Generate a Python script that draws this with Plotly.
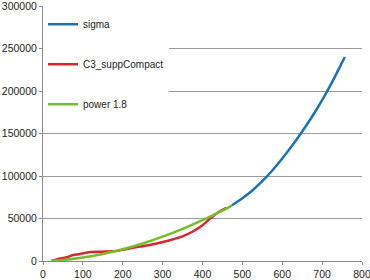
import plotly.graph_objects as go

# sigma
sigma_x = [474, 500, 525, 550, 575, 600, 625, 650, 675, 700, 725, 750, 757]
sigma_y = [65500, 73800, 83000, 93900, 106500, 120500, 135800, 152400, 170000, 189300, 210500, 233500, 240000]

# C3_suppCompact
c3_x = [22, 43, 60, 76, 90, 118, 150, 185, 193, 220, 243, 270, 293, 318, 350, 377, 400, 419, 440, 460]
c3_y = [300, 3000, 4500, 7000, 8000, 10500, 11000, 11700, 12500, 15000, 17000, 19000, 21500, 24500, 29000, 35000, 42000, 50000, 57500, 62500]

# power 1.8
pw_x = [20, 50, 100, 150, 200, 250, 300, 350, 400, 450, 474]
pw_y = [200, 1150, 4000, 8300, 13800, 20600, 28600, 37800, 48000, 59200, 65500]

names = ["sigma", "C3_suppCompact", "power 1.8"]
colors = ["#1c70b7", "#d9262d", "#74be2a"]

fig = go.Figure()
for i, (xs, ys) in enumerate([(sigma_x, sigma_y), (c3_x, c3_y), (pw_x, pw_y)]):
    fig.add_trace(go.Scatter(
        x=xs, y=ys, mode="lines", name=names[i], legendgroup=names[i],
        line=dict(color=colors[i], width=2.5, shape="spline", smoothing=0.6),
    ))

fig.update_layout(
    width=370, height=280,
    margin=dict(l=43, r=8, t=6, b=19, autoexpand=False),
    paper_bgcolor="white", plot_bgcolor="white",
    font=dict(family="Liberation Sans, Arial, sans-serif", size=10.5, color="#222"),
    showlegend=True,
    legend=dict(
        x=0.0, y=0.985, xanchor="left", yanchor="top",
        bgcolor="white", borderwidth=0,
        traceorder="grouped", tracegroupgap=21,
        font=dict(size=10, color="#222"),
    ),
    xaxis=dict(
        range=[0, 800], dtick=100, tick0=0, showgrid=False,
        showline=True, linecolor="#8a8a8a", linewidth=1,
        ticks="outside", ticklen=3, tickcolor="#8a8a8a",
        zeroline=False, fixedrange=True, automargin=False,
        ticklabeloverflow="allow",
    ),
    yaxis=dict(
        range=[0, 300000], dtick=50000, tick0=0,
        showgrid=True, gridcolor="#9a9a9a", gridwidth=1,
        showline=True, linecolor="#8a8a8a", linewidth=1,
        ticks="outside", ticklen=3, tickcolor="#8a8a8a",
        zeroline=False, tickformat="d", fixedrange=True, automargin=False,
        ticklabeloverflow="allow",
    ),
)

fig.write_html(
    "out.html",
    config={"displayModeBar": False},
    post_script="document.body.style.margin='0';",
)
